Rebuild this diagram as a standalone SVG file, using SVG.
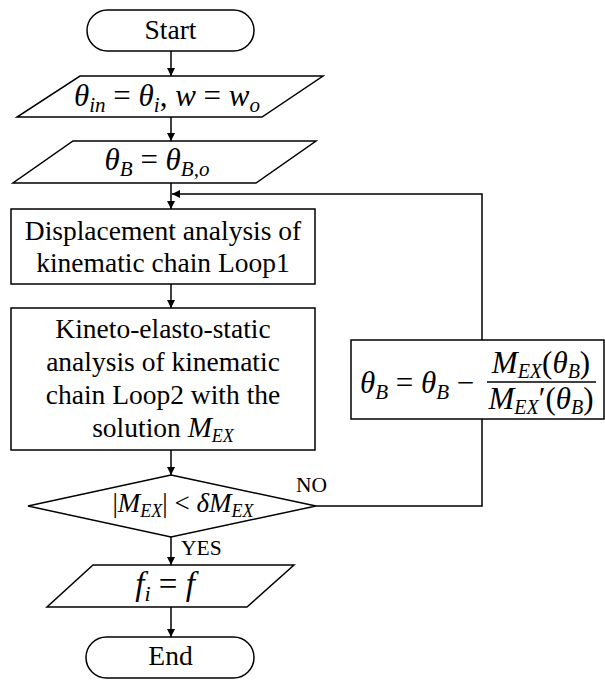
<svg xmlns="http://www.w3.org/2000/svg" width="605" height="680" viewBox="0 0 605 680">
<style>
.s{fill:#fff;stroke:#000;stroke-width:1.5}
.t{font-family:"Liberation Serif","Times New Roman",serif;font-size:27.5px;fill:#000}
.m{font-family:"Liberation Serif","Times New Roman",serif;font-style:italic;fill:#000}
.u{font-style:normal}
.c{stroke:#000;stroke-width:1.5;fill:none}
.l{font-family:"Liberation Serif","Times New Roman",serif;font-size:21.5px;fill:#000}
</style>
<defs>
<marker id="a" viewBox="0 0 10 10" refX="10" refY="5" markerWidth="8" markerHeight="8" markerUnits="userSpaceOnUse" orient="auto">
<path d="M0,0 L10,5 L0,10 z" fill="#000"/>
</marker>
</defs>
<rect width="605" height="680" fill="#fff"/>
<g id="connectors">
<line class="c" x1="171" y1="51" x2="171" y2="76" marker-end="url(#a)"/>
<line class="c" x1="171" y1="117" x2="171" y2="141" marker-end="url(#a)"/>
<line class="c" x1="171" y1="183" x2="171" y2="209" marker-end="url(#a)"/>
<line class="c" x1="171" y1="284" x2="171" y2="308" marker-end="url(#a)"/>
<line class="c" x1="171" y1="450" x2="171" y2="475" marker-end="url(#a)"/>
<line class="c" x1="171" y1="537" x2="171" y2="565" marker-end="url(#a)"/>
<line class="c" x1="171" y1="607" x2="171" y2="637" marker-end="url(#a)"/>
<polyline class="c" points="316,506 482,506 482,419"/>
<polyline class="c" points="482,340 482,194 172,194" marker-end="url(#a)"/>
<text class="l" x="296" y="492">NO</text>
<text class="l" x="181" y="555">YES</text>
</g>
<g id="start">
<rect class="s" x="87" y="10" width="167" height="41" rx="20.5"/>
<text class="t" x="170.5" y="39" text-anchor="middle">Start</text>
</g>
<g id="input1">
<polygon class="s" points="80,76 323,76 262,117 17,117"/>
<text class="m" x="167" y="106" text-anchor="middle" style="font-size:31px">θ<tspan style="font-size:21px" dy="6">in</tspan><tspan class="u" dy="-6"> = </tspan>θ<tspan style="font-size:21px" dy="6">i</tspan><tspan class="u" dy="-6">, </tspan>w<tspan class="u"> = </tspan>w<tspan style="font-size:21px" dy="6">o</tspan></text>
</g>
<g id="input2">
<polygon class="s" points="73,141 316,141 256,183 13,183"/>
<text class="m" x="157" y="170" text-anchor="middle" style="font-size:31px">θ<tspan style="font-size:21px" dy="6">B</tspan><tspan class="u" dy="-6"> = </tspan>θ<tspan style="font-size:21px" dy="6">B,o</tspan></text>
</g>
<g id="box1">
<rect class="s" x="11" y="209" width="304" height="75"/>
<text class="t" x="163" y="240" text-anchor="middle">Displacement analysis of</text>
<text class="t" x="163" y="272" text-anchor="middle">kinematic chain Loop1</text>
</g>
<g id="box2">
<rect class="s" x="11" y="308" width="304" height="142"/>
<text class="t" x="163" y="338" text-anchor="middle">Kineto-elasto-static</text>
<text class="t" x="163" y="371" text-anchor="middle">analysis of kinematic</text>
<text class="t" x="163" y="404" text-anchor="middle">chain Loop2 with the</text>
<text class="t" x="163" y="437" text-anchor="middle">solution <tspan class="m" style="font-size:29px">M</tspan><tspan class="m" style="font-size:18px" dy="5">EX</tspan></text>
</g>
<g id="decision">
<polygon class="s" points="171,475 316,506 171,537 28,506"/>
<text class="m" x="183" y="512" text-anchor="middle" style="font-size:27px"><tspan class="u">|</tspan>M<tspan style="font-size:18px" dy="5">EX</tspan><tspan class="u" dy="-5">| &lt; </tspan>δM<tspan style="font-size:18px" dy="5">EX</tspan></text>
</g>
<g id="update">
<rect class="s" x="351" y="340" width="253" height="79"/>
<text class="m" x="360" y="393" style="font-size:31px">θ<tspan style="font-size:21px" dy="6">B</tspan><tspan class="u" dy="-6"> = </tspan>θ<tspan style="font-size:21px" dy="6">B</tspan><tspan class="u" dy="-6"> − </tspan></text>
<line x1="487" y1="382" x2="596" y2="382" stroke="#000" stroke-width="1.3"/>
<text class="m" x="541" y="373" text-anchor="middle" style="font-size:31px">M<tspan style="font-size:20px" dy="5">EX</tspan><tspan class="u" dy="-5">(</tspan>θ<tspan style="font-size:20px" dy="5">B</tspan><tspan class="u" dy="-5">)</tspan></text>
<text class="m" x="541" y="409" text-anchor="middle" style="font-size:31px">M<tspan style="font-size:20px" dy="5">EX</tspan><tspan class="u" dy="-5">′(</tspan>θ<tspan style="font-size:20px" dy="5">B</tspan><tspan class="u" dy="-5">)</tspan></text>
</g>
<g id="output">
<polygon class="s" points="93,565 294,565 247,607 47,607"/>
<text class="m" x="165" y="595" text-anchor="middle" style="font-size:33px">f<tspan style="font-size:22px" dy="6">i</tspan><tspan class="u" dy="-6"> = </tspan>f</text>
</g>
<g id="end">
<rect class="s" x="86" y="637" width="168" height="41" rx="20.5"/>
<text class="t" x="170.5" y="665" text-anchor="middle">End</text>
</g>
</svg>
